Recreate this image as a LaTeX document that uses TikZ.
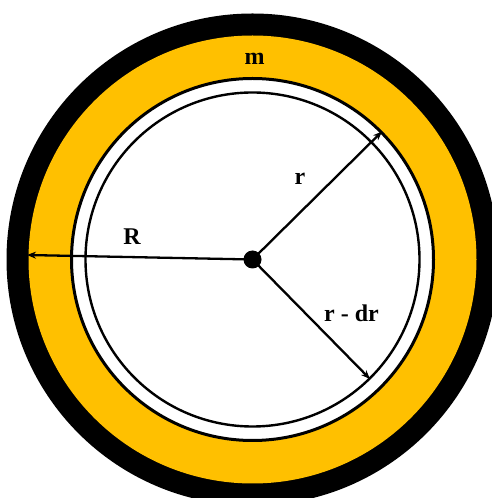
\documentclass[tikz,border=0pt]{standalone}
\usepackage{fontspec}
\setmainfont{Liberation Serif}
\usetikzlibrary{arrows.meta}
\definecolor{ringgold}{RGB}{255,192,0}
\tikzset{
  lbl/.style={font=\fontsize{24}{28}\selectfont\bfseries, anchor=base, inner sep=0pt},
  radarrow/.style={line width=2.3pt, -{Stealth[length=9pt,width=7pt]}},
}
\begin{document}
\begin{tikzpicture}[x=1pt,y=1pt]
\useasboundingbox (0,0) rectangle (492,498);
\clip (0,0) rectangle (492,498);
\fill[white] (0,0) rectangle (492,498);
\coordinate (C) at (252.5,238.5);
% rings
\fill[black] (C) circle[radius=246];
\fill[ringgold] (C) circle[radius=224];
\draw[black, line width=3pt, fill=white] (C) circle[radius=181];
\draw[black, line width=2.4pt] (C) circle[radius=167];
% arrow tips
\coordinate (Rtip) at (27,243);
\coordinate (rtip) at (382,366.5);
\coordinate (drtip) at (370,119);
\draw[radarrow] (C) -- (Rtip);
\draw[radarrow] (C) -- (rtip);
\draw[radarrow] (C) -- (drtip);
\fill[black] (C) circle[radius=9];
% labels
\node[lbl] (m) at (254.5,433) {m};
\node[lbl] (R) at (132,253) {R};
\node[lbl] (r) at (300,313) {r};
\node[lbl] (rdr) at (351.5,176) {r - dr};
\end{tikzpicture}
\end{document}
